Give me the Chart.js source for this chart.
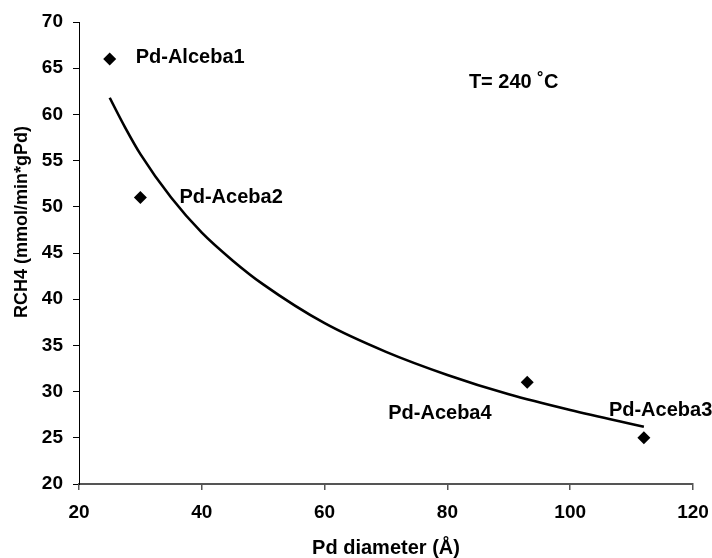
<!DOCTYPE html>
<html>
<head>
<meta charset="utf-8">
<script src="https://cdn.jsdelivr.net/npm/chart.js@4/dist/chart.umd.min.js"></script>
<style>
  html, body { margin: 0; padding: 0; background: #fff; }
  #wrap { width: 712px; height: 558px; position: relative; }
</style>
</head>
<body>
<div id="wrap"><canvas id="c" width="712" height="558"></canvas></div>
<script>
// Measured points
const diameters = [25, 30, 93, 112];
const rates = [66, 51, 31, 25];
const sampleNames = ['Pd-Alceba1', 'Pd-Aceba2', 'Pd-Aceba4', 'Pd-Aceba3'];
// Trend curve
const trendX = [25, 27.5, 30, 35, 40, 45, 50, 60, 70, 80, 90, 100, 112];
const trendY = [61.8, 58.6, 55.7, 51.0, 47.2, 44.2, 41.6, 37.4, 34.3, 31.8, 29.7, 28.0, 26.2];
// Axis settings / texts
const xTicks = [20, 40, 60, 80, 100, 120];
const yTicks = [20, 25, 30, 35, 40, 45, 50, 55, 60, 65, 70];
const xTitle = 'Pd diameter (Å)';
const yTitle = 'RCH4 (mmol/min*gPd)';
const tempNote = 'T= 240 ˚C';

const FONT = "'Liberation Sans', Arial, sans-serif";
Chart.defaults.font.family = FONT;
Chart.defaults.font.size = 19;
Chart.defaults.font.weight = 'bold';
Chart.defaults.color = '#000';

// pixel offsets of each label from its point (left edge, vertical middle)
const labelOffsets = [[26, -1], [39, 0], [-139, 31], [-35, -27]];

const annot = {
  id: 'annot',
  afterDatasetsDraw(chart) {
    const ctx = chart.ctx;
    const xs = chart.scales.x, ys = chart.scales.y;
    ctx.save();
    ctx.fillStyle = '#000';
    ctx.font = 'bold 20px ' + FONT;
    ctx.textAlign = 'left';
    ctx.textBaseline = 'middle';
    sampleNames.forEach((n, i) => {
      const px = xs.getPixelForValue(diameters[i]);
      const py = ys.getPixelForValue(rates[i]);
      ctx.fillText(n, px + labelOffsets[i][0], py + labelOffsets[i][1]);
    });
    ctx.fillText(tempNote, xs.getPixelForValue(83.5), ys.getPixelForValue(63.4));
    // y axis title
    ctx.font = 'bold 18px ' + FONT;
    ctx.translate(22, 222);
    ctx.rotate(-Math.PI / 2);
    ctx.textAlign = 'center';
    ctx.fillText(yTitle, 0, 0);
    ctx.restore();
  }
};

const tickFont = { family: FONT, size: 19, weight: 'bold' };

new Chart(document.getElementById('c'), {
  type: 'scatter',
  data: {
    datasets: [
      {
        label: 'Measured',
        data: diameters.map((x, i) => ({ x, y: rates[i] })),
        pointStyle: 'rectRot',
        pointRadius: 6.5,
        backgroundColor: '#000',
        borderColor: '#000',
        borderWidth: 0,
        showLine: false
      },
      {
        label: 'Trend',
        data: trendX.map((x, i) => ({ x, y: trendY[i] })),
        showLine: true,
        pointRadius: 0,
        borderColor: '#000',
        borderWidth: 2.6,
        cubicInterpolationMode: 'monotone',
        fill: false
      }
    ]
  },
  options: {
    responsive: false,
    animation: false,
    devicePixelRatio: 1,
    layout: { padding: { top: 22, right: 19, left: 0, bottom: 0 } },
    plugins: { legend: { display: false }, tooltip: { enabled: false } },
    scales: {
      x: {
        type: 'linear',
        min: 20, max: 120,
        afterBuildTicks: (s) => { s.ticks = xTicks.map(v => ({ value: v })); },
        afterFit: (s) => { s.height = 74; s.paddingLeft = 0; s.paddingRight = 0; },
        border: { color: '#555', width: 2 },
        grid: { drawOnChartArea: false, tickLength: 6, color: '#555', lineWidth: 1.5 },
        ticks: { color: '#000', font: tickFont, padding: 11, maxRotation: 0 },
        title: { display: true, text: xTitle, color: '#000', font: { family: FONT, size: 20, weight: 'bold', lineHeight: 1 }, padding: { top: 0, bottom: 0 } }
      },
      y: {
        type: 'linear',
        min: 20, max: 70,
        afterBuildTicks: (s) => { s.ticks = yTicks.map(v => ({ value: v })); },
        afterFit: (s) => { s.width = 79; s.paddingTop = 0; s.paddingBottom = 0; },
        border: { color: '#000', width: 1 },
        grid: { drawOnChartArea: false, tickLength: 6, color: '#000', lineWidth: 1 },
        ticks: { color: '#000', font: tickFont, padding: 10 }
      }
    }
  },
  plugins: [annot]
});
</script>
</body>
</html>
